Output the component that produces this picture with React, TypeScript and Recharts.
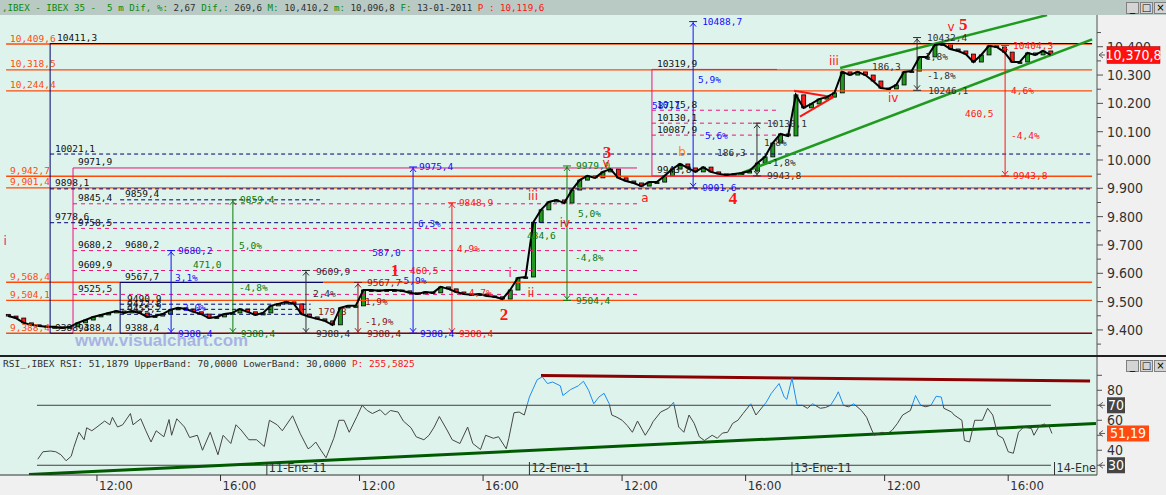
/**
 * IBEX 35 - 5 minute chart with Elliott count, Fibonacci levels and RSI pane
 */

import {
  Bar,
  ComposedChart,
  Line,
  ReferenceDot,
  ReferenceLine,
  XAxis,
  YAxis,
} from "recharts"

/******************************************************************************
                              Data
******************************************************************************/

// x axis is the 5-minute bar number counted from 10-Ene-11 09:00 (102 bars a session)
const BARS_PER_CANDLE = 3 // one candle per 15 minutes
const FIRST_OPEN = 9455
const LAST_PRICE = 10370.8
const LAST_RSI = 51.19

const CLOSES = [
  9449, 9442, 9425, 9418, 9414, 9411, 9411, 9407, 9411, 9425,
  9435, 9446, 9453, 9460, 9467, 9460, 9467, 9460, 9446, 9449,
  9456, 9471, 9478, 9474, 9464, 9456, 9442, 9446, 9456, 9460,
  9474, 9464, 9453, 9460,
  9485, 9492, 9499, 9492, 9456, 9446,
  9439, 9432, 9418, 9478, 9485, 9485, 9541, 9541, 9538, 9541,
  9541, 9538, 9531, 9527, 9534, 9531, 9552, 9545, 9534, 9527,
  9524, 9527, 9520, 9517, 9509, 9541, 9584, 9587,
  9780, 9824, 9852, 9859, 9848, 9894, 9929, 9944, 9937, 9958,
  9968, 9937, 9926, 9919, 9908, 9922, 9922, 9944, 9968, 9986,
  9972, 9958, 9975, 9958, 9951, 9947, 9951, 9954, 9961, 9989,
  10011, 10060, 10092, 10085,
  10230, 10184, 10198, 10215, 10222, 10237, 10311, 10300, 10311, 10300,
  10279, 10254, 10251, 10265, 10311, 10314, 10364, 10364, 10406, 10410,
  10392, 10385, 10374, 10346, 10371, 10403, 10399, 10381, 10346, 10346,
  10378, 10371, 10385, 10371,
]

const RSI_BARS = [
  13, 15, 18, 20, 22, 24, 26, 27, 29, 31, 32, 34, 36, 39, 41, 42, 44, 46, 49, 50,
  53, 55, 57, 59, 62, 64, 65, 67, 70, 72, 75, 77, 80, 83, 85, 88, 90, 92, 95, 98,
  101, 103, 106, 108, 112, 115, 118, 119, 121, 123, 125, 128, 130, 132, 134, 137, 139, 141, 143, 146,
  148, 150, 153, 155, 158, 160, 163, 165, 167, 169, 172, 174, 177, 180, 182, 185, 187, 190, 192, 195,
  196, 198, 200, 202, 204, 207, 209, 211, 213, 216, 217, 220, 223, 225, 227, 229, 231, 233, 235, 236,
  238, 240, 242, 244, 246, 249, 251, 252, 255, 258, 260, 262, 264, 266, 268, 270, 272, 275, 277, 279,
  281, 283, 285, 287, 290, 292, 296, 298, 301, 303, 304, 306, 308, 310, 312, 314, 317, 319, 321, 323,
  324, 326, 328, 330, 333, 335, 337, 338, 341, 343, 345, 347, 349, 352, 354, 356, 358, 360, 362, 364,
  365, 368, 369, 372, 373, 375, 377, 380, 382, 384, 386, 388, 390, 392, 394, 396, 399, 400, 402, 404,
  406, 407,
]
const RSI_VALUES = [
  34, 39, 39.5, 39, 37, 33, 36, 42, 52, 47, 55, 53, 55.5, 59.5, 57, 62, 55.5, 57, 64.5, 57,
  61, 53, 45.5, 53, 49, 60.5, 50, 61, 55.5, 48.5, 50, 40, 52, 37, 50, 44.5, 57, 53.5, 47, 47,
  42.5, 60, 57, 53, 63, 51, 41, 42, 45.5, 40, 35, 48, 60, 60, 52, 62.5, 70, 66.5, 64.5, 67,
  63.5, 66.5, 65.5, 59.5, 55, 49, 47, 50, 55.5, 62.5, 53.5, 47, 44.5, 55.5, 44.5, 40.5, 50, 48, 49, 41,
  48, 65, 65.5, 63.5, 75.5, 87, 89, 84.5, 85.5, 83, 76.5, 80.5, 83, 86, 80, 71, 75.5, 78, 71, 63.5,
  62, 60, 56.5, 52, 59.5, 50, 55.5, 59, 65.5, 68, 72, 55.5, 52, 63.5, 58, 49, 46.5, 50, 48, 51.5,
  52, 58, 60, 64.5, 71, 63.5, 72, 78, 84.5, 75.5, 74, 88, 70, 70, 68, 71, 68, 68.5, 70, 75.5,
  79, 70, 69, 71, 66.5, 62, 53.5, 50, 52, 51, 53.5, 58, 63.5, 66.5, 76.5, 70, 69, 70, 76, 75.5,
  68, 65.5, 63.5, 60, 46.5, 45.5, 60, 60, 68, 63.5, 50, 48, 39, 38, 52, 55.5, 54.5, 50, 56, 57.5,
  55.5, 51.19,
]

const HOUR_TICKS = [36, 84, 138, 186, 240, 288, 342, 390]
const HOUR_LABELS = ["12:00", "16:00", "12:00", "16:00", "12:00", "16:00", "12:00", "16:00"]
const DAY_TICKS = [102, 204, 306, 408]
const DAY_LABELS = ["11-Ene-11", "12-Ene-11", "13-Ene-11", "14-Ene"]

const PRICE_TICKS = [
  9350, 9400, 9450, 9500, 9550, 9600, 9650, 9700, 9750, 9800, 9850, 9900,
  9950, 10000, 10050, 10100, 10150, 10200, 10250, 10300, 10350, 10400, 10450,
]
const RSI_TICKS = [30, 40, 50, 60, 70, 80, 90]

// drawn levels: [bar, price] pairs
type Seg = [number, number, number, number]
type Note = [number, number, string]

const ORANGE_LEVELS = [10409.6, 10318.5, 10244.4, 9942.7, 9901.4, 9568.4, 9504.1, 9388.4]

const NAVY_SOLID: Seg[] = [
  [17.8, 10411.3, 422.6, 10411.3],
  [17.8, 10411.3, 17.8, 9388.4],
  [17.8, 9388.4, 26.7, 9388.4],
  [45, 9388.4, 422.6, 9388.4],
  [45, 9567.7, 45, 9388.4],
  [45, 9567.7, 123.8, 9567.7],
]
const NAVY_DASHED: Seg[] = [
  [17.8, 10021.1, 422.6, 10021.1],
  [17.8, 9898.1, 422.6, 9898.1],
  [17.8, 9778.6, 422.6, 9778.6],
  [45, 9859.4, 122.6, 9859.4],
  [45, 9490.9, 119, 9490.9],
  [45, 9472.8, 119, 9472.8],
  [45, 9455.2, 119, 9455.2],
]
const PINK_SOLID: Seg[] = [
  [26.7, 9971.9, 26.7, 9388.4],
  [26.7, 9971.9, 245.8, 9971.9],
  [251.6, 10319.9, 251.6, 9943.8],
  [251.6, 10319.9, 300.2, 10319.9],
  [251.6, 9943.8, 300.2, 9943.8],
]
const PINK_DASHED: Seg[] = [
  [26.7, 9845.4, 245.8, 9845.4],
  [26.7, 9758.5, 245.8, 9758.5],
  [26.7, 9680.2, 245.8, 9680.2],
  [26.7, 9609.9, 245.8, 9609.9],
  [26.7, 9525.5, 245.8, 9525.5],
  [251.6, 10175.8, 300.2, 10175.8],
  [251.6, 10130.1, 300.2, 10130.1],
  [251.6, 10087.9, 300.2, 10087.9],
]
const GREEN_CHANNEL: Seg[] = [
  [324.7, 10324.7, 405.1, 10511.8],
  [285, 9949.5, 422.6, 10426],
]
const RED_TRIANGLE: Seg[] = [
  [306.8, 10244.6, 321.9, 10221.3],
  [309.1, 10152.8, 321.9, 10221.3],
]

// black level captions: [bar, level]
const LEVEL_CAPTIONS: [number, number][] = [
  [20.5, 10411.3], [19.7, 10021.1], [28.6, 9971.9], [19.7, 9898.1], [28.6, 9845.4],
  [46.9, 9859.4], [19.7, 9778.6], [28.6, 9758.5], [28.6, 9680.2], [46.9, 9680.2],
  [28.6, 9609.9], [46.9, 9567.7], [28.6, 9525.5], [19.7, 9388.4], [28.6, 9388.4],
  [46.9, 9388.4], [47.7, 9490.9], [47.7, 9472.8], [47.7, 9455.2],
  [253.6, 10319.9], [253.6, 10175.8], [253.6, 10130.1], [253.6, 10087.9], [253.6, 9943.8],
]

// measuring arrows: [bar, top, bottom]
const BLUE_ARROWS: [number, number, number][] = [[64.8, 9680.2, 9388.4], [158.8, 9975.4, 9388.4], [267.6, 10488.7, 9901.6]]
const GREEN_ARROWS: [number, number, number][] = [[88.8, 9859.4, 9388.4], [218.6, 9979.0, 9504.4]]
const GRAY_ARROWS: [number, number, number][] = [[117.2, 9609.9, 9388.4], [292.4, 10130.1, 9943.8], [354.6, 10432.4, 10246.1]]
const BROWN_ARROWS: [number, number, number][] = [[137.4, 9567.7, 9388.4]]
const RED_ARROWS: [number, number, number][] = [[173.9, 9848.9, 9388.4], [388.8, 10404.3, 9943.8]]

const BLUE_NOTES: Note[] = [
  [67.5, 9680.2, "9680,2"], [66.3, 9583.5, "3,1%"], [69.4, 9477.6, "3,0%"], [67.5, 9388.4, "9388,4"],
  [161.1, 9975.4, "9975,4"], [160.7, 9774.1, "6,3%"], [142.9, 9671.8, "587,0"], [152.9, 9572.9, "-5,9%"], [161.5, 9388.4, "9388,4"],
  [271.1, 10488.7, "10488,7"], [269.5, 10285.9, "5,9%"], [251.6, 10194.1, "587,1"], [272.2, 10088.2, "5,6%"], [271.1, 9901.6, "9901,6"],
]
const GREEN_NOTES: Note[] = [
  [91.6, 9859.4, "9859,4"], [91.2, 9696.5, "5,0%"], [73.3, 9629.4, "471,0"], [91.2, 9548.2, "-4,8%"], [91.9, 9388.4, "9388,4"],
  [222.1, 9979.0, "9979,0"], [222.9, 9812.9, "5,0%"], [203.1, 9731.8, "434,6"], [221.7, 9654.1, "-4,8%"], [222.1, 9504.4, "9504,4"],
]
const GRAY_NOTES: Note[] = [
  [121.1, 9605, "9609,9"], [119.9, 9527.1, "2,4%"], [121.1, 9388.4, "9388,4"],
  [296.3, 10130.1, "10130,1"], [295.1, 10063.5, "1,8%"], [276.9, 10028.2, "186,3"], [296.3, 9992.9, "-1,8%"], [296.3, 9943.8, "9943,8"],
  [358.5, 10432.4, "10432,4"], [357.7, 10367.1, "1,8%"], [337.1, 10331.8, "186,3"], [358.5, 10300, "-1,8%"], [358.9, 10246.1, "10246,1"],
]
const BROWN_NOTES: Note[] = [
  [121.9, 9463.5, "179,3"], [140.9, 9567.7, "9567,7"], [140.1, 9498.8, "1,9%"], [140.1, 9428.2, "-1,9%"], [140.9, 9388.4, "9388,4"],
]
const RED_NOTES: Note[] = [
  [176.6, 9848.9, "9848,9"], [175.9, 9685.9, "4,9%"], [157.6, 9608.2, "460,5"], [178.2, 9530.6, "-4,7%"], [176.6, 9388.4, "9388,4"],
  [391.9, 10404.3, "10404,3"], [391.1, 10247.1, "4,6%"], [373.2, 10165.9, "460,5"], [391.1, 10088.2, "-4,4%"], [391.9, 9943.8, "9943,8"],
]

const WAVE_NUMBERS: Note[] = [
  [151.8, 9611.8, "1"], [194.1, 9456.5, "2"], [234.1, 10028.2, "3"], [283.1, 9865.9, "4"], [372.5, 10482, "5"],
]
const WAVE_LETTERS: Note[] = [
  [196.5, 9601.2, "i"], [204.6, 9530.6, "ii"], [205.4, 9872.9, "iii"], [217.8, 9777.6, "iv"], [233.8, 9989.4, "v"],
  [248.9, 9865.9, "a"], [322.3, 10349.4, "iii"], [345.3, 10218.8, "iv"], [367.8, 10469.4, "v"],
]
const WAVE_B: Note = [263.3, 10028.2, "b"]
const WAVE_I_LEFT: Note = [0.3, 9714.1, "i"]

const RSI_BANDS = [70, 30]
const RSI_RED_TREND: Seg = [208.5, 89.8, 421.8, 86.2]
const RSI_GREEN_TREND: Seg = [9.6, 23.8, 424.1, 57.9]

/******************************************************************************
                              Constants
******************************************************************************/

const W = 1166
const MAIN_TOP = 15
const MAIN_H = 341
const RSI_TOP = 357
const RSI_H = 138
const RSI_AXIS_H = 20
const AXIS_W = 69

const X_DOMAIN: [number, number] = [-1.67, 424.5]
const PRICE_DOMAIN: [number, number] = [9308, 10512]
const RSI_DOMAIN: [number, number] = [23.5, 102.2]

const LINE_START = 0.7
const LINE_END = 422.6
const ORANGE_CAPTION_BAR = 2.2
const RSI_BAND_START = 12.7
const RSI_BAND_END = 406.6

const MONO = "'DejaVu Sans Mono', 'Liberation Mono', monospace"
const NARROW = "'Liberation Sans Narrow', 'DejaVu Sans Condensed', sans-serif"

const C = {
  bg: "#dff3ed",
  panel: "#f0f0f0",
  title: "#b8cac3",
  orange: "#ff4a0a",
  navy: "#00006e",
  pink: "#f0107a",
  blue: "#1010ff",
  green: "#0c7a0c",
  gray: "#303030",
  brown: "#8b1414",
  red: "#ff1414",
  up: "#1f9a1f",
  down: "#ff1a1a",
  channel: "#1f9a1f",
  rsi: "#454545",
  rsiHigh: "#1c8cf0",
}

/******************************************************************************
                              Functions
******************************************************************************/

const priceRows = CLOSES.map((close, i) => {
  const open = i === 0 ? FIRST_OPEN : CLOSES[i - 1]
  return {
    t: i * BARS_PER_CANDLE + 1.5,
    close,
    body: [Math.min(open, close), Math.max(open, close)],
    up: close >= open,
  }
})

const rsiRows = RSI_BARS.map((t, i) => ({ t, rsi: RSI_VALUES[i] }))

function fmtComma(v: number): string {
  const [int, dec] = v.toFixed(1).split(".")
  const th = int.length > 3 ? `${int.slice(0, -3)},${int.slice(-3)}` : int
  return `${th},${dec}`
}

function fmtPlain(v: number, digits = 1): string {
  return v.toFixed(digits).replace(".", ",")
}

function fmtAxis(v: number): string {
  return `${Math.floor(v / 1000)}.${String(v % 1000).padStart(3, "0")}`
}

function textShape(
  text: string,
  color: string,
  dy: number,
  extra: Record<string, unknown> = {},
) {
  return (p: { cx: number; cy: number }) => (
    <text
      x={p.cx}
      y={p.cy + dy}
      fill={color}
      fontSize={9.5}
      fontFamily={MONO}
      {...extra}
    >
      {text}
    </text>
  )
}

function arrowEnd(color: string, up: boolean) {
  return (p: { cx: number; cy: number }) => {
    const s = up ? 1 : -1
    return (
      <g stroke={color} fill="none" strokeWidth={1}>
        <line x1={p.cx - 4} y1={p.cy} x2={p.cx + 4} y2={p.cy} />
        <polyline
          points={`${p.cx - 3},${p.cy + s * 5} ${p.cx},${p.cy + s * 1.5} ${p.cx + 3},${p.cy + s * 5}`}
        />
      </g>
    )
  }
}

function segLines(segs: Seg[], stroke: string, key: string, extra = {}) {
  return segs.map((s, i) => (
    <ReferenceLine
      key={`${key}${i}`}
      segment={[
        { x: s[0], y: s[1] },
        { x: s[2], y: s[3] },
      ]}
      stroke={stroke}
      strokeWidth={1}
      ifOverflow="hidden"
      {...extra}
    />
  ))
}

/******************************************************************************
                              Components
******************************************************************************/

function Candle(p: any) {
  const h = Math.max(p.height ?? 0, 1.5)
  return (
    <rect
      x={p.x}
      y={p.y}
      width={p.width}
      height={h}
      fill={p.payload?.up ? C.up : C.down}
      stroke="#000"
      strokeWidth={0.8}
    />
  )
}

function PriceTick(p: any) {
  const v = p.payload.value
  const { x, y } = p
  if (v === LAST_PRICE) {
    return (
      <g>
        <polyline points={`${x + 6},${y - 3} ${x + 2},${y} ${x + 6},${y + 3}`} stroke="#606060" fill="none" />
        <line x1={x + 2} y1={y} x2={x + 8} y2={y} stroke="#606060" />
        <rect x={x + 10} y={y - 8.5} width={53} height={17} fill="#ff1010" stroke="#a00000" strokeWidth={0.5} />
        <text x={x + 36.5} y={y + 5} textAnchor="middle" fill="#fff" fontSize={14} fontFamily={NARROW}>
          {fmtComma(LAST_PRICE)}
        </text>
      </g>
    )
  }
  const major = v % 100 === 0
  return (
    <g>
      <line x1={x} y1={y} x2={x + (major ? 6 : 4)} y2={y} stroke="#505050" />
      {major && (
        <text x={x + 10} y={y + 5} fill="#303030" fontSize={14} fontFamily={NARROW}>
          {fmtAxis(v)}
        </text>
      )}
    </g>
  )
}

function RsiTick(p: any) {
  const v = p.payload.value
  const { x, y } = p
  const pointer = (
    <g stroke="#606060" fill="none">
      <polyline points={`${x + 6},${y - 3} ${x + 2},${y} ${x + 6},${y + 3}`} />
      <line x1={x + 2} y1={y} x2={x + 8} y2={y} />
    </g>
  )
  if (v === LAST_RSI) {
    return (
      <g>
        {pointer}
        <rect x={x + 10} y={y - 8} width={42} height={16} fill="#ff4a12" />
        <text x={x + 31} y={y + 5} textAnchor="middle" fill="#fff" fontSize={14} fontFamily={NARROW}>
          {fmtPlain(LAST_RSI, 2)}
        </text>
      </g>
    )
  }
  const boxed = RSI_BANDS.includes(v)
  return (
    <g>
      <line x1={x} y1={y} x2={x + 5} y2={y} stroke="#505050" />
      {boxed && (
        <>
          {pointer}
          <rect x={x + 10} y={y - 8} width={18} height={16} fill="#454545" />
          <text x={x + 19} y={y + 5} textAnchor="middle" fill="#fff" fontSize={14} fontFamily={NARROW}>
            {v}
          </text>
        </>
      )}
      {!boxed && v !== 50 && v !== 90 && (
        <text x={x + 10} y={y + 5} fill="#303030" fontSize={14} fontFamily={NARROW}>
          {v}
        </text>
      )}
    </g>
  )
}

function TimeTick(p: any) {
  const v = p.payload.value
  const { x, y } = p
  const d = DAY_TICKS.indexOf(v)
  if (d >= 0) {
    return (
      <g>
        <line x1={x} y1={y - 13} x2={x} y2={y} stroke="#303030" />
        <text x={x + 2} y={y - 3.5} fill="#303030" fontSize={12.5} fontFamily={NARROW}>
          {DAY_LABELS[d]}
        </text>
      </g>
    )
  }
  const h = HOUR_TICKS.indexOf(v)
  return (
    <g>
      <line x1={x} y1={y} x2={x} y2={y + 6} stroke="#303030" />
      <text x={x + 2} y={y + 15} fill="#303030" fontSize={13} fontFamily={NARROW}>
        {HOUR_LABELS[h]}
      </text>
    </g>
  )
}

function WinButtons({ top }: { top: number }) {
  const glyphs = ["_", "□", "×"]
  return (
    <div style={{ position: "absolute", left: 1126, top, display: "flex", gap: 1 }}>
      {glyphs.map((g) => (
        <div
          key={g}
          style={{
            width: 11,
            height: 10,
            background: "#d4d4d4",
            border: "1px solid #808080",
            fontSize: 10,
            lineHeight: "9px",
            textAlign: "center",
            fontFamily: "'DejaVu Sans', sans-serif",
            color: "#000",
          }}
        >
          {g}
        </div>
      ))}
    </div>
  )
}

function MainChart() {
  const arrowGroups = [
    { color: C.blue, arrows: BLUE_ARROWS, notes: BLUE_NOTES },
    { color: C.green, arrows: GREEN_ARROWS, notes: GREEN_NOTES },
    { color: C.gray, arrows: GRAY_ARROWS, notes: GRAY_NOTES },
    { color: C.brown, arrows: BROWN_ARROWS, notes: BROWN_NOTES },
    { color: C.red, arrows: RED_ARROWS, notes: RED_NOTES },
  ]

  return (
    <ComposedChart
      width={W}
      height={MAIN_H}
      data={priceRows}
      margin={{ top: 0, right: 0, bottom: 0, left: 0 }}
    >
      <XAxis dataKey="t" type="number" domain={X_DOMAIN} allowDataOverflow hide />
      <YAxis
        orientation="right"
        width={AXIS_W}
        domain={PRICE_DOMAIN}
        allowDataOverflow
        ticks={[...PRICE_TICKS, LAST_PRICE]}
        interval={0}
        tick={PriceTick}
        tickSize={0}
        tickMargin={0}
        tickLine={false}
        axisLine={{ stroke: "#505050" }}
      />

      {ORANGE_LEVELS.map((v) => (
        <ReferenceLine
          key={`o${v}`}
          segment={[
            { x: LINE_START, y: v },
            { x: LINE_END, y: v },
          ]}
          stroke={C.orange}
          strokeWidth={1.3}
          ifOverflow="hidden"
        />
      ))}
      {segLines(PINK_DASHED, C.pink, "pd", { strokeDasharray: "4 4" })}
      {segLines(PINK_SOLID, C.pink, "ps")}
      {segLines(NAVY_DASHED, C.navy, "nd", { strokeDasharray: "4 3" })}
      {segLines(NAVY_SOLID, C.navy, "ns")}
      {segLines(GREEN_CHANNEL, C.channel, "gc", { strokeWidth: 2.5 })}
      {segLines(RED_TRIANGLE, C.red, "rt", { strokeWidth: 2 })}

      {arrowGroups.map((g, gi) =>
        g.arrows.map(([t, top, bottom], i) => (
          <ReferenceLine
            key={`a${gi}-${i}`}
            segment={[
              { x: t, y: top },
              { x: t, y: bottom },
            ]}
            stroke={g.color}
            strokeWidth={1}
          />
        )),
      )}
      {arrowGroups.map((g, gi) =>
        g.arrows.flatMap(([t, top, bottom], i) => [
          <ReferenceDot key={`at${gi}-${i}`} x={t} y={top} shape={arrowEnd(g.color, true)} />,
          <ReferenceDot key={`ab${gi}-${i}`} x={t} y={bottom} shape={arrowEnd(g.color, false)} />,
        ]),
      )}

      <Line
        dataKey="close"
        type="linear"
        stroke="#000"
        strokeWidth={2}
        dot={false}
        isAnimationActive={false}
      />
      <Bar dataKey="body" barSize={4} shape={Candle} isAnimationActive={false} />

      {ORANGE_LEVELS.map((v) => (
        <ReferenceDot
          key={`ol${v}`}
          x={ORANGE_CAPTION_BAR}
          y={v}
          shape={textShape(fmtComma(v), C.orange, -2.5)}
        />
      ))}
      {LEVEL_CAPTIONS.map(([t, v], i) => (
        <ReferenceDot key={`lc${i}`} x={t} y={v} shape={textShape(fmtPlain(v), "#101010", -2.5)} />
      ))}
      {arrowGroups.map((g, gi) =>
        g.notes.map(([t, v, text], i) => (
          <ReferenceDot key={`n${gi}-${i}`} x={t} y={v} shape={textShape(text, g.color, 3.5)} />
        )),
      )}
      {WAVE_NUMBERS.map(([t, v, text]) => (
        <ReferenceDot
          key={`w${text}`}
          x={t}
          y={v}
          shape={textShape(text, C.red, 6, {
            fontSize: 17,
            fontWeight: 700,
            fontFamily: "'Liberation Serif', serif",
            textAnchor: "middle",
          })}
        />
      ))}
      {WAVE_LETTERS.map(([t, v, text], i) => (
        <ReferenceDot
          key={`wl${i}`}
          x={t}
          y={v}
          shape={textShape(text, C.red, 4, {
            fontSize: 12,
            fontFamily: "'DejaVu Sans', sans-serif",
            textAnchor: "middle",
          })}
        />
      ))}
      <ReferenceDot
        x={WAVE_B[0]}
        y={WAVE_B[1]}
        shape={textShape(WAVE_B[2], "#ff8a00", 4, {
          fontSize: 12,
          fontFamily: "'DejaVu Sans', sans-serif",
          textAnchor: "middle",
        })}
      />
      <ReferenceDot
        x={WAVE_I_LEFT[0]}
        y={WAVE_I_LEFT[1]}
        shape={textShape(WAVE_I_LEFT[2], C.pink, 4, {
          fontSize: 12,
          fontFamily: "'DejaVu Sans', sans-serif",
          textAnchor: "middle",
        })}
      />
    </ComposedChart>
  )
}

function RsiChart() {
  const plotH = RSI_H - RSI_AXIS_H
  const stop =
    (((RSI_DOMAIN[1] - 70) / (RSI_DOMAIN[1] - RSI_DOMAIN[0])) * plotH) / RSI_H
  const ticks = [...HOUR_TICKS, ...DAY_TICKS].sort((a, b) => a - b)

  return (
    <ComposedChart
      width={W}
      height={RSI_H}
      data={rsiRows}
      margin={{ top: 0, right: 0, bottom: 0, left: 0 }}
    >
      <defs>
        <linearGradient id="rsiStroke" gradientUnits="userSpaceOnUse" x1="0" y1="0" x2="0" y2={RSI_H}>
          <stop offset={0} stopColor={C.rsiHigh} />
          <stop offset={stop} stopColor={C.rsiHigh} />
          <stop offset={stop} stopColor={C.rsi} />
          <stop offset={1} stopColor={C.rsi} />
        </linearGradient>
      </defs>
      <XAxis
        dataKey="t"
        type="number"
        domain={X_DOMAIN}
        allowDataOverflow
        ticks={ticks}
        interval={0}
        tick={TimeTick}
        tickSize={0}
        tickMargin={0}
        tickLine={false}
        height={RSI_AXIS_H}
        axisLine={{ stroke: "#303030" }}
      />
      <YAxis
        orientation="right"
        width={AXIS_W}
        domain={RSI_DOMAIN}
        allowDataOverflow
        ticks={[...RSI_TICKS, LAST_RSI]}
        interval={0}
        tick={RsiTick}
        tickSize={0}
        tickMargin={0}
        tickLine={false}
        axisLine={{ stroke: "#505050" }}
      />
      {RSI_BANDS.map((v) => (
        <ReferenceLine
          key={`b${v}`}
          segment={[
            { x: RSI_BAND_START, y: v },
            { x: RSI_BAND_END, y: v },
          ]}
          stroke="#404040"
          strokeWidth={1}
        />
      ))}
      {segLines([RSI_RED_TREND], "#8b0000", "rr", { strokeWidth: 3 })}
      {segLines([RSI_GREEN_TREND], "#005a00", "rg", { strokeWidth: 3 })}
      <Line
        dataKey="rsi"
        type="linear"
        stroke="url(#rsiStroke)"
        strokeWidth={1}
        dot={false}
        isAnimationActive={false}
      />
    </ComposedChart>
  )
}

export default function App() {
  return (
    <div
      style={{
        position: "absolute",
        left: 0,
        top: 0,
        width: W,
        height: 495,
        overflow: "hidden",
        background: C.bg,
        fontFamily: MONO,
      }}
    >
      {/* right axis and time axis panels */}
      <div style={{ position: "absolute", left: W - AXIS_W, top: 0, width: AXIS_W, height: 495, background: C.panel }} />
      <div style={{ position: "absolute", left: 0, top: RSI_TOP + RSI_H - RSI_AXIS_H, width: W, height: RSI_AXIS_H, background: C.panel }} />

      {/* title bar */}
      <div
        style={{
          position: "absolute",
          left: 0,
          top: 0,
          width: W,
          height: MAIN_TOP,
          background: C.title,
          fontSize: 9.2,
          lineHeight: "15px",
          whiteSpace: "pre",
          paddingLeft: 2,
          color: "#303030",
        }}
      >
        <span style={{ color: "#0a8a0a" }}>,IBEX - IBEX 35 -  5 m Dif, %:</span>
        {" 2,67 "}
        <span style={{ color: "#0a8a0a" }}>Dif,:</span>
        {" 269,6 "}
        <span style={{ color: "#0a8a0a" }}>M:</span>
        {" 10,410,2 "}
        <span style={{ color: "#0a8a0a" }}>m:</span>
        {" 10,096,8 "}
        <span style={{ color: "#0a8a0a" }}>F:</span>
        {" 13-01-2011 "}
        <span style={{ color: "#ff1010" }}>P : 10,119,6</span>
      </div>
      <WinButtons top={2} />

      <div style={{ position: "absolute", left: 0, top: MAIN_TOP }}>
        <MainChart />
      </div>

      <div
        style={{
          position: "absolute",
          left: 75,
          top: 331,
          fontFamily: "'Liberation Sans', Arial, sans-serif",
          fontWeight: 700,
          fontSize: 17,
          color: "#a9b3e3",
          whiteSpace: "pre",
        }}
      >
        www.visualchart.com
      </div>

      <div style={{ position: "absolute", left: 0, top: 355, width: W, height: 2, background: "#202020" }} />

      <div style={{ position: "absolute", left: 0, top: RSI_TOP }}>
        <RsiChart />
      </div>
      <div
        style={{
          position: "absolute",
          left: 3,
          top: RSI_TOP + 1,
          fontSize: 9.5,
          lineHeight: "12px",
          whiteSpace: "pre",
          color: "#303030",
        }}
      >
        {"RSI_,IBEX RSI: 51,1879 UpperBand: 70,0000 LowerBand: 30,0000 "}
        <span style={{ color: "#ff1010" }}>P: 255,5825</span>
      </div>
      <WinButtons top={RSI_TOP + 3} />
    </div>
  )
}
